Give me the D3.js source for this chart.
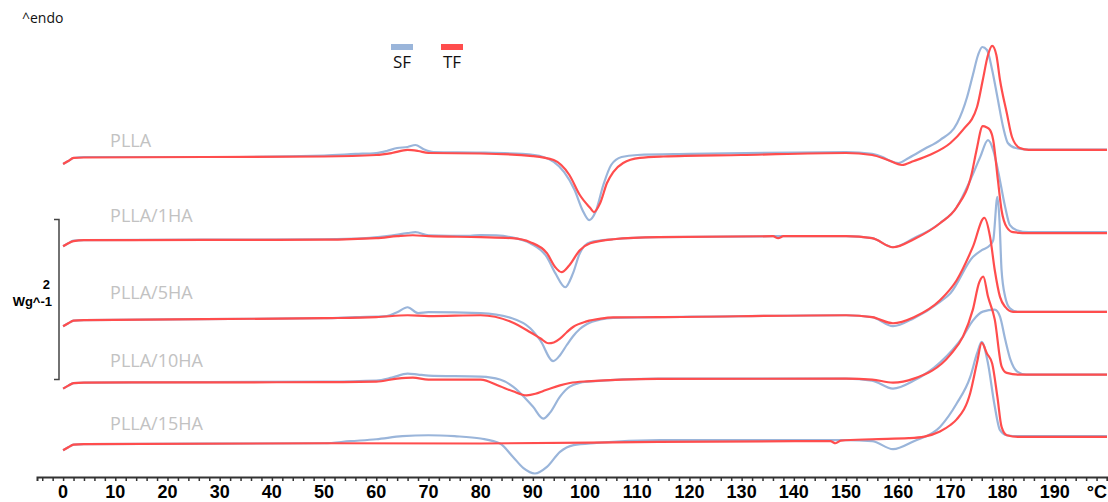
<!DOCTYPE html>
<html>
<head>
<meta charset="utf-8">
<script src="https://cdn.jsdelivr.net/npm/d3@7"></script>
<style>
  body { margin: 0; background: #fff; }
  svg { display: block; }
</style>
</head>
<body>
<svg id="dsc" width="1108" height="502"></svg>
<script>
// heat flow (W/g) relative to each sample's baseline
var samples = ["PLLA", "PLLA/1HA", "PLLA/5HA", "PLLA/10HA", "PLLA/15HA"];
var offsets = [4.0, 2.96, 1.96, 1.18, 0.41];
var seriesNames = ["SF", "TF"];
var xTicks = [0, 10, 20, 30, 40, 50, 60, 70, 80, 90, 100, 110, 120, 130, 140, 150, 160, 170, 180, 190];

var sfPLLA = [[0,-0.088],[1,-0.05],[2,-0.012],[4,0],[30,0],[50,0.019],[56,0.038],[60,0.05],[62,0.075],[64,0.112],[66,0.125],[67.5,0.15],[69,0.1],[71,0.062],[80,0.056],[88,0.038],[92,0],[94,-0.062],[96,-0.188],[98,-0.412],[99.5,-0.662],[100.8,-0.788],[102,-0.688],[103.5,-0.35],[105,-0.1],[107,0],[110,0.025],[120,0.038],[140,0.056],[150,0.062],[155,0.038],[157,0],[158.5,-0.05],[160,-0.075],[162,-0.012],[165,0.1],[168,0.212],[171.3,0.425],[173.2,0.75],[174.3,1.025],[175.3,1.275],[176.1,1.375],[177,1.338],[178,1.088],[179,0.75],[180.1,0.375],[181,0.175],[182.5,0.112],[185,0.094],[200,0.094]];
var tfPLLA = [[0,-0.088],[1,-0.05],[2,-0.012],[4,-0.006],[50,0.006],[60,0.025],[63,0.05],[66,0.088],[68,0.075],[70,0.05],[80,0.044],[90,0.012],[94,-0.038],[97,-0.225],[99,-0.475],[101,-0.638],[101.7,-0.688],[102.9,-0.575],[104.2,-0.325],[105.4,-0.188],[107.3,-0.075],[110.5,-0.012],[115,0.006],[130,0.025],[150,0.05],[155,0.025],[158,-0.038],[160.7,-0.1],[163,-0.05],[166,0.025],[170,0.175],[172.4,0.338],[175.1,0.625],[176.2,0.962],[177.2,1.275],[178,1.388],[178.8,1.275],[179.5,0.962],[180.8,0.55],[181.8,0.25],[183.3,0.112],[185,0.088],[200,0.088]];

var sf1HA = [[0,-0.075],[1,-0.038],[2,-0.006],[4,0],[50,0.012],[58,0.025],[62,0.05],[66,0.088],[67.5,0.1],[70,0.062],[78,0.055],[80,0.065],[83,0.06],[86,0.035],[89.5,-0.038],[92.7,-0.212],[94.3,-0.412],[96.2,-0.588],[97.7,-0.412],[99,-0.162],[101,-0.025],[105.4,0.012],[114,0.038],[140,0.05],[150,0.05],[155,0.025],[159,-0.088],[163,0.025],[168,0.212],[171.2,0.412],[173.8,0.75],[175.7,1.038],[177.2,1.25],[178.2,1.125],[179.1,0.875],[180.5,0.412],[181.4,0.188],[182.7,0.125],[185,0.1],[200,0.1]];
var tf1HA = [[0,-0.075],[1,-0.038],[2,-0.012],[4,0],[50,0.006],[60,0.025],[64,0.05],[67,0.062],[70,0.05],[80,0.038],[86,0.025],[89.5,-0.025],[92.7,-0.162],[94.3,-0.338],[95.5,-0.4],[97,-0.312],[99,-0.125],[101,-0.038],[105.4,0.012],[114,0.038],[136,0.05],[137,0.025],[138,0.05],[150,0.05],[155,0.025],[159,-0.088],[163,0.012],[168,0.212],[171.2,0.412],[174.1,0.838],[175,1.125],[176.2,1.425],[176.9,1.412],[177.6,1.375],[178.2,1.25],[179.1,0.75],[179.8,0.375],[180.8,0.162],[182,0.1],[185,0.088],[200,0.088]];

var sf5HA = [[0,-0.075],[1,-0.038],[2,-0.006],[4,0],[50,0.025],[56,0.038],[62,0.05],[64,0.1],[66,0.162],[68,0.088],[70,0.1],[80,0.088],[86,0.025],[89.5,-0.1],[91.4,-0.25],[93.9,-0.512],[95.2,-0.438],[96.5,-0.31],[97.7,-0.2],[99,-0.11],[100.3,-0.05],[103,0.01],[105.4,0.03],[114,0.038],[150,0.062],[155,0.038],[159,-0.075],[163,0.025],[168,0.228],[170,0.338],[174.3,0.79],[176,0.875],[177.6,0.938],[178.2,1.0],[179,1.541],[179.4,1.25],[179.8,0.625],[180.5,0.291],[181.4,0.15],[182.9,0.104],[200,0.104]];
var tf5HA = [[0,-0.075],[1,-0.038],[2,-0.006],[4,0],[50,0.025],[60,0.038],[66,0.062],[70,0.05],[80,0.062],[86,-0.025],[89.5,-0.15],[91.4,-0.225],[93,-0.288],[94,-0.278],[95.2,-0.23],[96.5,-0.15],[97.7,-0.085],[100.3,-0.015],[103,0.02],[105.4,0.035],[114,0.038],[150,0.062],[155,0.038],[159,-0.038],[163,0.038],[168,0.25],[171.2,0.5],[174.3,0.916],[176.5,1.279],[177.6,1.042],[178.5,0.625],[179.5,0.291],[180.5,0.166],[182,0.104],[200,0.104]];

var sf10HA = [[0,-0.075],[1,-0.038],[2,-0.006],[4,0],[50,0.012],[60,0.025],[63,0.062],[66,0.112],[68,0.1],[70,0.088],[80,0.075],[83.7,0.038],[86.2,-0.05],[90,-0.3],[92,-0.45],[93.3,-0.375],[95.2,-0.175],[97.1,-0.05],[100.4,0.012],[114,0.05],[150,0.05],[155,0.025],[159,-0.075],[163,0.025],[168,0.25],[172.4,0.575],[174.3,0.775],[176.2,0.887],[178.5,0.912],[179.5,0.825],[180.5,0.538],[181.5,0.287],[182.8,0.138],[184.5,0.1],[200,0.1]];
var tf10HA = [[0,-0.075],[1,-0.038],[2,-0.006],[4,0],[50,0.006],[60,0.012],[64,0.05],[67,0.062],[70,0.038],[80,0.038],[83.7,-0.046],[86.2,-0.109],[88.8,-0.159],[90.5,-0.14],[92,-0.105],[93.5,-0.07],[95.2,-0.035],[97.1,-0.005],[100.4,0.016],[114,0.046],[150,0.05],[155,0.038],[159,0],[163,0.05],[170,0.35],[172.4,0.575],[174.3,0.912],[175.5,1.25],[176.3,1.325],[177.2,1.075],[178.5,0.787],[179.8,0.204],[180.8,0.121],[183,0.1],[200,0.1]];

var sf15HA = [[0,-0.075],[1,-0.038],[2,-0.006],[4,0],[50,0.012],[55,0.038],[60,0.062],[65,0.1],[70,0.112],[75,0.1],[80,0.071],[83.7,0.009],[86.2,-0.159],[88.2,-0.3],[90.4,-0.366],[92.7,-0.284],[95.2,-0.096],[97.8,-0.012],[102.2,0.016],[114.4,0.05],[150,0.05],[155,0.038],[159,-0.062],[163,0.038],[168,0.216],[171.2,0.508],[173.8,0.841],[175.1,1.134],[176,1.279],[177.2,1.009],[178.4,0.509],[179.5,0.175],[180.8,0.112],[183,0.1],[200,0.1]];
var tf15HA = [[0,-0.075],[1,-0.038],[2,-0.006],[4,0],[50,0.012],[80,0.009],[114,0.029],[147,0.038],[148,0.012],[149,0.044],[155,0.062],[162,0.075],[165,0.095],[168,0.16],[170,0.24],[171.2,0.31],[173.8,0.64],[175.1,1.02],[176,1.266],[177,1.134],[178,1.009],[179,0.591],[179.8,0.216],[180.8,0.112],[183,0.091],[200,0.091]];

var sfCurves = [sfPLLA, sf1HA, sf5HA, sf10HA, sf15HA];
var tfCurves = [tfPLLA, tf1HA, tf5HA, tf10HA, tf15HA];

var svg = d3.select("#dsc");
var colors = d3.scaleOrdinal().domain(seriesNames).range(["#9ab5da", "#ff4d4d"]);

var x = d3.scaleLinear().domain([-5, 200]).range([37, 1107]);
var y = d3.scaleLinear().domain([0, 5.6]).range([477, 29]);

var line = d3.line()
  .x(function (d) { return x(d[0]); })
  .y(function (d) { return y(d[1]); })
  .curve(d3.curveMonotoneX);

// x axis, minor ticks every 2 degrees
var axis = svg.append("g")
  .attr("transform", "translate(0," + y(0) + ")")
  .call(d3.axisBottom(x).tickValues(d3.range(-4, 201, 2)).tickSize(4).tickFormat(""));
axis.select(".domain").attr("stroke", "#333").attr("stroke-width", 2);
axis.selectAll(".tick line").attr("stroke", "#333").attr("stroke-width", 1.5);

svg.append("g")
  .attr("font-family", "Liberation Sans, Arial, sans-serif")
  .attr("font-weight", "bold")
  .attr("font-size", "18px")
  .attr("text-anchor", "middle")
  .selectAll("text")
  .data(xTicks)
  .enter()
  .append("text")
  .attr("x", function (d) { return x(d); })
  .attr("y", y(0) + 21)
  .text(function (d) { return d; });

svg.append("text")
  .attr("x", 1107)
  .attr("y", y(0) + 21)
  .attr("text-anchor", "end")
  .attr("font-family", "Liberation Sans, Arial, sans-serif")
  .attr("font-weight", "bold")
  .attr("font-size", "18px")
  .text("°C");

// curves
samples.forEach(function (s, i) {
  var g = svg.append("g").attr("fill", "none").attr("stroke-width", 2.2).attr("stroke-linejoin", "round");
  [["SF", sfCurves[i]], ["TF", tfCurves[i]]].forEach(function (c) {
    g.append("path")
      .datum(c[1].map(function (p) { return [p[0], p[1] + offsets[i]]; }))
      .attr("stroke", colors(c[0]))
      .attr("d", line);
  });
});

// sample labels
var labelY = [4.13, 3.19, 2.23, 1.37, 0.59];
svg.append("g")
  .attr("font-family", "Open Sans, sans-serif")
  .attr("font-size", "18px")
  .attr("fill", "#c2c2c2")
  .selectAll("text")
  .data(samples)
  .enter()
  .append("text")
  .attr("x", x(9))
  .attr("y", function (d, i) { return y(labelY[i]); })
  .text(function (d) { return d; });

// legend
var legend = svg.append("g")
  .attr("font-family", "Open Sans, sans-serif")
  .attr("font-size", "17px")
  .attr("text-anchor", "middle")
  .selectAll("g")
  .data(seriesNames)
  .enter()
  .append("g")
  .attr("transform", function (d, i) { return "translate(" + (402 + i * 50) + ",44)"; });
legend.append("rect").attr("x", -11).attr("width", 22).attr("height", 6).attr("fill", colors);
legend.append("text").attr("y", 24).attr("fill", "#111").text(function (d) { return d; });

// scale bar: 2 W/g
var barTop = y(3.22), barBottom = y(1.22);
svg.append("path")
  .attr("d", "M54," + barTop + "H59V" + barBottom + "H54")
  .attr("fill", "none")
  .attr("stroke", "#444")
  .attr("stroke-width", 1.5);
svg.append("text")
  .attr("x", 50).attr("y", (barTop + barBottom) / 2 - 10)
  .attr("font-family", "Liberation Sans, Arial, sans-serif")
  .attr("font-weight", "bold").attr("font-size", "13px")
  .attr("text-anchor", "end").text("2");
svg.append("text")
  .attr("x", 52).attr("y", (barTop + barBottom) / 2 + 7)
  .attr("font-family", "Liberation Sans, Arial, sans-serif")
  .attr("font-weight", "bold").attr("font-size", "13px")
  .attr("text-anchor", "end").text("Wg^-1");

svg.append("text")
  .attr("x", 22).attr("y", 23)
  .attr("font-family", "Open Sans, sans-serif")
  .attr("font-size", "14px")
  .attr("fill", "#111")
  .text("^endo");
</script>
</body>
</html>
